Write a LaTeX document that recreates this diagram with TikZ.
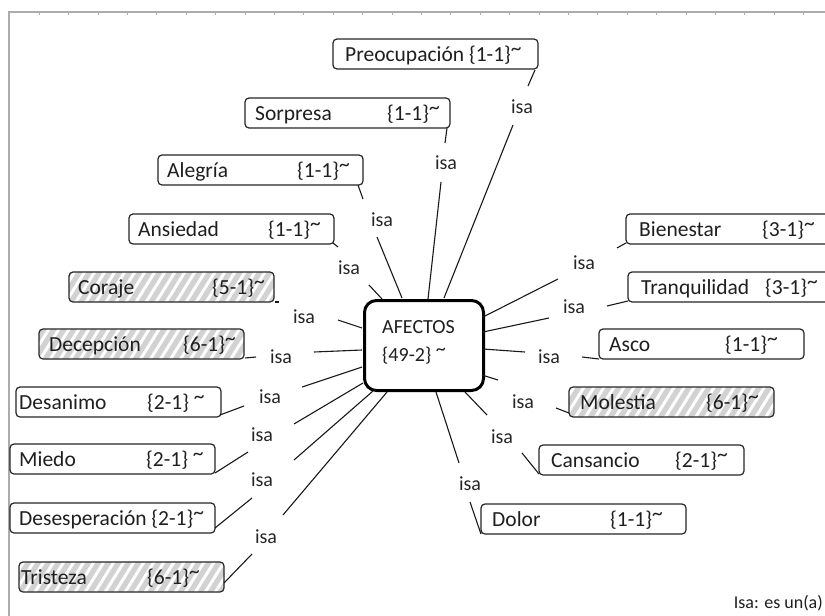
\documentclass[tikz,border=0pt]{standalone}
\usepackage{fontspec}
\setmainfont{Carlito}
\usetikzlibrary{patterns.meta}
\newcommand\tld{\raisebox{0.26em}{\textasciitilde}}
\begin{document}
\begin{tikzpicture}[x=1pt,y=-1pt,
  box/.style={draw=black!85, line width=1.2pt, rounded corners=4pt, fill=white,
    minimum width=205pt, minimum height=30pt, anchor=north west, inner sep=0pt, outer sep=0pt},
  hatched/.style={box, fill=none, preaction={fill=gray!35},
    pattern={Lines[angle=58,distance=8.5pt,line width=3pt]}, pattern color=white},
  txt/.style={font=\fontsize{21.5}{24}\selectfont, text=black!88, anchor=base west, inner sep=0pt},
  isa/.style={font=\fontsize{20}{22}\selectfont, text=black!85, inner sep=0pt},
  link/.style={draw=black!90, line width=1.1pt},
  centre/.style={draw=black, line width=3pt, rounded corners=12pt, fill=white,
    minimum width=119pt, minimum height=90pt, anchor=north west, inner sep=0pt},
  ctxt/.style={font=\fontsize{20}{22}\selectfont, text=black!88, anchor=base west, inner sep=0pt},
  frame/.style={draw=gray!65, line width=1.5pt}
]
\clip (0,0) rectangle (825,616);
\fill[white] (0,0) rectangle (825,616);

% page frame with ruler ticks
\draw[frame] (9,616) -- (9,12) -- (825,12);
\foreach \i in {0,...,26} \draw[draw=gray!65, line width=1pt] (39.3+29.4*\i,12) -- ++(0,3);

% centre concept
\node[centre] (afectos) at (363,299) {};
\node[ctxt] (afectos-a) at (382,333) {AFECTOS};
\node[ctxt] (afectos-b) at (382,361) {\{49-2\} \tld};

% concept boxes
\node[box] (preo) at (333,39) {};
\node[txt] (preo-n) at (345,61) {Preocupación \{1-1\}\tld};

\node[box] (sorp) at (245,98) {};
\node[txt] (sorp-n) at (255,120) {Sorpresa};
\node[txt] (sorp-c) at (387,120) {\{1-1\}\tld};

\node[box] (aleg) at (158,155) {};
\node[txt] (aleg-n) at (167,177) {Alegría};
\node[txt] (aleg-c) at (297,177) {\{1-1\}\tld};

\node[box] (ansi) at (129,214) {};
\node[txt] (ansi-n) at (138,236) {Ansiedad};
\node[txt] (ansi-c) at (268,236) {\{1-1\}\tld};

\node[hatched] (cora) at (69,272) {};
\node[txt] (cora-n) at (78,294) {Coraje};
\node[txt] (cora-c) at (212,294) {\{5-1\}\tld};

\node[hatched] (dece) at (39,329) {};
\node[txt] (dece-n) at (49,351) {Decepción};
\node[txt] (dece-c) at (183,351) {\{6-1\}\tld};

\node[box] (desa) at (16,387) {};
\node[txt] (desa-n) at (19,409) {Desanimo};
\node[txt] (desa-c) at (147,409) {\{2-1\} \tld};

\node[box] (mied) at (10,444) {};
\node[txt] (mied-n) at (19,466) {Miedo};
\node[txt] (mied-c) at (146,466) {\{2-1\} \tld};

\node[box] (dese) at (10,503) {};
\node[txt] (dese-n) at (19,525) {Desesperación \{2-1\}\tld};

\node[hatched] (tris) at (19,562) {};
\node[txt] (tris-n) at (21,584) {Tristeza};
\node[txt] (tris-c) at (147,584) {\{6-1\}\tld};

\node[box] (bien) at (626,214) {};
\node[txt] (bien-n) at (639,236) {Bienestar};
\node[txt] (bien-c) at (762,236) {\{3-1\}\tld};

\node[box] (tran) at (628,272) {};
\node[txt] (tran-n) at (641,294) {Tranquilidad};
\node[txt] (tran-c) at (765,294) {\{3-1\}\tld};

\node[box] (asco) at (599,329) {};
\node[txt] (asco-n) at (609,351) {Asco};
\node[txt] (asco-c) at (725,351) {\{1-1\}\tld};

\node[hatched] (mole) at (569,387) {};
\node[txt] (mole-n) at (580,409) {Molestia};
\node[txt] (mole-c) at (706,409) {\{6-1\}\tld};

\node[box] (cans) at (539,445) {};
\node[txt] (cans-n) at (551,467) {Cansancio};
\node[txt] (cans-c) at (675,467) {\{2-1\}\tld};

\node[box] (dolo) at (481,504) {};
\node[txt] (dolo-n) at (492,526) {Dolor};
\node[txt] (dolo-c) at (610,526) {\{1-1\}\tld};

% "isa" linking phrases and their connectors
\foreach \n/\lx/\ly/\ax/\ay/\bx/\by/\cx/\cy/\dx/\dy in {
  preo/522/107/535/70/528/86/513/125/444/298,
  sorp/446/163/447/128/445/143/441/182/428/299,
  aleg/382/220/358/185/363/199/377/237/402/298,
  ansi/349/268/333/243/338/247/369/285/382/299,
  cora/304/317/275/302/279/302/338/320/362/328,
  dece/281/357/245/358/256/357/314/352/362/350,
  desa/270/397/220/415/244/406/302/387/362/367,
  mied/262/435/215/473/248/452/294/424/363/383,
  dese/262/480/215/528/252/498/294/460/373/391,
  tris/266/537/224/583/252/554/283/515/387/392,
  bien/584/263/626/243/617/248/558/279/483/317,
  tran/574/307/628/301/607/306/549/318/483/332,
  asco/549/357/599/359/582/357/525/352/483/349,
  mole/523/402/569/413/556/408/498/380/482/375,
  cans/502/437/539/474/522/453/487/415/465/392,
  dolo/470/484/481/534/470/502/459/463/436/392}
{
  \node[isa] (\n-isa) at (\lx,\ly) {isa};
  \coordinate (\n-t1) at (\ax,\ay);
  \coordinate (\n-t2) at (\bx,\by);
  \coordinate (\n-m1) at (\cx,\cy);
  \coordinate (\n-m2) at (\dx,\dy);
  \draw[link] (\n-t1) -- (\n-t2);
  \draw[link] (\n-m1) -- (\n-m2);
}

% legend
\node[font=\fontsize{18}{20}\selectfont, text=black!88, anchor=base east, inner sep=0pt] (legend) at (823,608) {Isa: es un(a)};
\end{tikzpicture}
\end{document}
